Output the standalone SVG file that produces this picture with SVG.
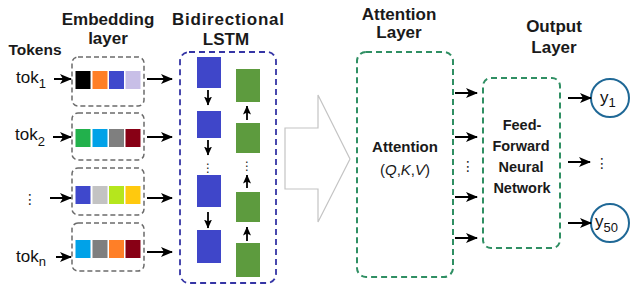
<svg xmlns="http://www.w3.org/2000/svg" width="640" height="297" viewBox="0 0 640 297">
<style>
.title{font-family:"Liberation Sans",Arial,sans-serif;font-weight:bold;font-size:17px;fill:#1a1a1a;text-anchor:middle}
.tok{font-family:"Liberation Sans",Arial,sans-serif;font-size:17px;fill:#111}
.sub{font-size:13px}
.emb{fill:none;stroke:#6b6b6b;stroke-width:1.5;stroke-dasharray:5,3}
.lstm{fill:none;stroke:#3535a5;stroke-width:1.8;stroke-dasharray:6,4}
.att{fill:none;stroke:#2f8f63;stroke-width:2;stroke-dasharray:6,4}
.blue{fill:#3f46c9}
.green{fill:#5d9b3e}
.arr{stroke:#000;stroke-width:2;fill:none;marker-end:url(#ah)}
.sarr{stroke:#000;stroke-width:1.8;fill:none;marker-end:url(#sh)}
.inner{font-family:"Liberation Sans",Arial,sans-serif;font-weight:bold;font-size:15px;fill:#1a1a1a;text-anchor:middle}
.dots{font-family:"DejaVu Sans",sans-serif;font-size:14px;fill:#222;text-anchor:middle}
.out{fill:#fff;stroke:#1f6896;stroke-width:2}
</style>
<defs>
<marker id="ah" markerUnits="userSpaceOnUse" markerWidth="12" markerHeight="10" refX="11" refY="5" orient="auto">
<path d="M0,0 L12,5 L0,10 L3,5 Z" fill="#000"/>
</marker>
<marker id="sh" markerUnits="userSpaceOnUse" markerWidth="9" markerHeight="8" refX="8.5" refY="4" orient="auto">
<path d="M0,0 L9,4 L0,8 L2,4 Z" fill="#000"/>
</marker>
</defs>
<rect width="640" height="297" fill="#fff"/>

<g id="titles">
<text class="title" x="108" y="25">Embedding</text>
<text class="title" x="108" y="44">layer</text>
<text class="title" x="35" y="55" style="font-size:15.5px">Tokens</text>
<text class="title" x="228" y="25" textLength="112">Bidirectional</text>
<text class="title" x="226" y="45">LSTM</text>
<text class="title" x="399" y="20">Attention</text>
<text class="title" x="399" y="38">Layer</text>
<text class="title" x="554" y="32">Output</text>
<text class="title" x="554" y="53">Layer</text>
</g>

<g id="tokens">
<text class="tok" x="16" y="83">tok<tspan class="sub" dy="5">1</tspan></text>
<text class="tok" x="15" y="140">tok<tspan class="sub" dy="6">2</tspan></text>
<text class="dots" x="30" y="204">⋮</text>
<text class="tok" x="16" y="262">tok<tspan class="sub" dy="4">n</tspan></text>
</g>

<g id="embedding1">
<rect class="emb" x="72" y="57" width="72" height="49" rx="6"/>
<rect x="75.5" y="71" width="15" height="18" fill="#000"/>
<rect x="92.5" y="71" width="15" height="18" fill="#ff7f27"/>
<rect x="109" y="71" width="15" height="18" fill="#3f48cc"/>
<rect x="125.5" y="71" width="15" height="18" fill="#c8bfe7"/>
</g>
<g id="embedding2">
<rect class="emb" x="72" y="113" width="72" height="47" rx="6"/>
<rect x="75.5" y="129" width="15" height="18" fill="#22b14c"/>
<rect x="92.5" y="129" width="15" height="18" fill="#00a2e8"/>
<rect x="109" y="129" width="15" height="18" fill="#7f7f7f"/>
<rect x="125.5" y="129" width="15" height="18" fill="#880015"/>
</g>
<g id="embedding3">
<rect class="emb" x="72" y="168" width="72" height="47" rx="6"/>
<rect x="75.5" y="186" width="15" height="18" fill="#3f48cc"/>
<rect x="92.5" y="186" width="15" height="18" fill="#c3c3c3"/>
<rect x="109" y="186" width="15" height="18" fill="#b5e61d"/>
<rect x="125.5" y="186" width="15" height="18" fill="#ffc90e"/>
</g>
<g id="embedding4">
<rect class="emb" x="72" y="223" width="72" height="48" rx="6"/>
<rect x="75.5" y="240" width="15" height="18" fill="#00a2e8"/>
<rect x="92.5" y="240" width="15" height="18" fill="#7f7f7f"/>
<rect x="109" y="240" width="15" height="18" fill="#ff7f27"/>
<rect x="125.5" y="240" width="15" height="18" fill="#880015"/>
</g>

<g id="lstm">
<rect class="lstm" x="180" y="52" width="96" height="231" rx="9"/>
<rect class="blue" x="197" y="57" width="24" height="31"/>
<rect class="blue" x="197" y="111" width="24" height="27"/>
<rect class="blue" x="197" y="175" width="24" height="32"/>
<rect class="blue" x="197" y="230" width="24" height="33"/>
<rect class="green" x="236" y="69" width="24" height="33"/>
<rect class="green" x="236" y="123" width="24" height="30"/>
<rect class="green" x="236" y="192" width="24" height="30"/>
<rect class="green" x="236" y="243" width="24" height="34"/>
<text class="dots" x="208" y="172" style="font-size:12px">⋮</text>
<text class="dots" x="247" y="170" style="font-size:12px">⋮</text>
</g>

<g id="big-arrow">
<path d="M285,128 L318,128 L318,95 L350,159 L318,222 L318,189 L285,189 Z" fill="#fff" stroke="#c4c4c4" stroke-width="1.2"/>
</g>

<g id="attention">
<rect class="att" x="357" y="52" width="96" height="225" rx="9"/>
<text class="inner" x="405" y="152">Attention</text>
<text class="inner" x="405" y="175" style="font-weight:normal">(<tspan font-style="italic">Q</tspan>,<tspan font-style="italic">K</tspan>,<tspan font-style="italic">V</tspan>)</text>
</g>

<g id="ffn">
<rect class="att" x="483" y="78" width="77" height="170" rx="8"/>
<text class="inner" x="522" y="130" style="font-size:14.5px">Feed-</text>
<text class="inner" x="521" y="151" style="font-size:14.5px">Forward</text>
<text class="inner" x="521" y="172" style="font-size:14.5px">Neural</text>
<text class="inner" x="522" y="193" style="font-size:14.5px">Network</text>
</g>

<g id="output-y1">
<circle class="out" cx="610" cy="98" r="19"/>
<text class="tok" x="600" y="103">y<tspan class="sub" dy="4">1</tspan></text>
</g>
<g id="output-dots">
<text class="dots" x="602" y="168">⋮</text>
</g>
<g id="output-y50">
<circle class="out" cx="610" cy="223" r="19"/>
<text class="tok" x="595" y="227">y<tspan class="sub" dy="5">50</tspan></text>
</g>

<g id="connectors">
<path class="arr" d="M54,79 H71"/>
<path class="arr" d="M53,137 H71"/>
<path class="arr" d="M50,198 H71"/>
<path class="arr" d="M56,257 H71"/>
<path class="arr" d="M147,79 H172"/>
<path class="arr" d="M147,137 H172"/>
<path class="arr" d="M147,198 H172"/>
<path class="arr" d="M147,252 H172"/>
<path class="sarr" d="M208,90 V105"/>
<path class="sarr" d="M208,140 V155"/>
<path class="sarr" d="M208,212 V228"/>
<path class="sarr" d="M247,120 V106"/>
<path class="sarr" d="M247,188 V175"/>
<path class="sarr" d="M247,241 V227"/>
<path class="arr" d="M455,93 H477"/>
<path class="arr" d="M455,137 H477"/>
<text class="dots" x="468" y="171">⋮</text>
<path class="arr" d="M455,197 H477"/>
<path class="arr" d="M455,238 H477"/>
<path class="arr" d="M568,98 H591"/>
<path class="arr" d="M568,162 H590"/>
<path class="arr" d="M568,223 H591"/>
</g>
</svg>
